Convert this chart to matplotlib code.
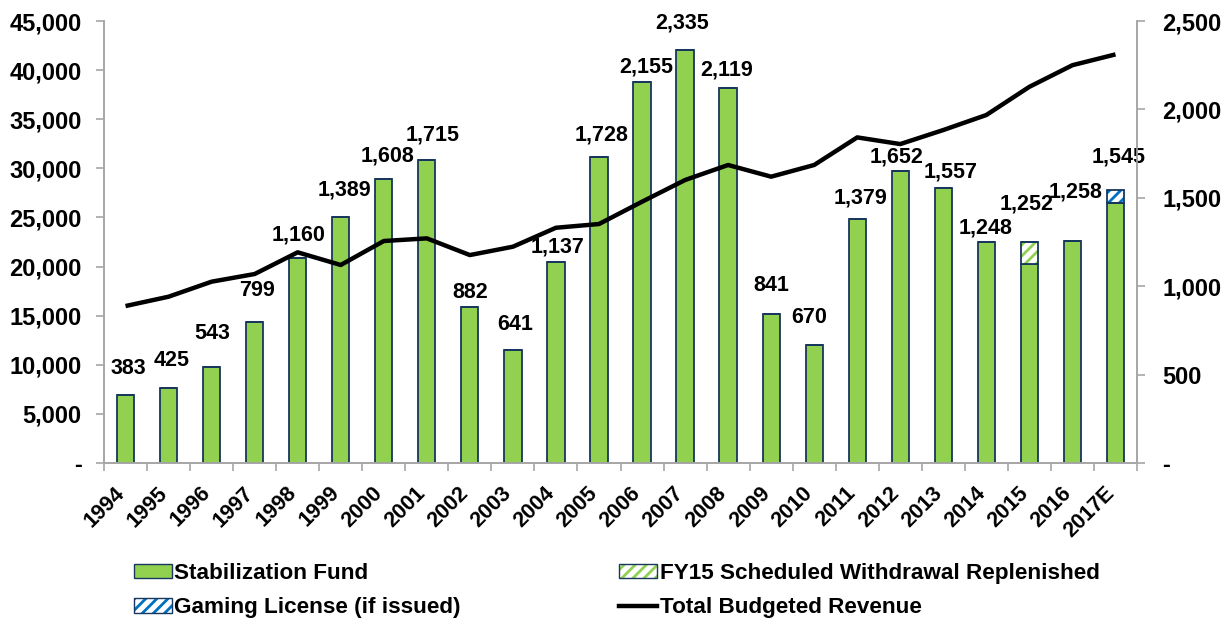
import matplotlib
matplotlib.use("Agg")
import matplotlib.pyplot as plt
import matplotlib.transforms as mtransforms
from matplotlib.patches import Patch
from matplotlib.lines import Line2D
from matplotlib.ticker import FuncFormatter, FixedLocator
import numpy as np

# ---------------- data ----------------
years = ["1994", "1995", "1996", "1997", "1998", "1999", "2000", "2001", "2002",
         "2003", "2004", "2005", "2006", "2007", "2008", "2009", "2010", "2011",
         "2012", "2013", "2014", "2015", "2016", "2017E"]
stab_labels = [383, 425, 543, 799, 1160, 1389, 1608, 1715, 882, 641, 1137, 1728,
               2155, 2335, 2119, 841, 670, 1379, 1652, 1557, 1248, 1252, 1258, 1545]
stab_fund = [383, 425, 543, 799, 1160, 1389, 1608, 1715, 882, 641, 1137, 1728,
             2155, 2335, 2119, 841, 670, 1379, 1652, 1557, 1248, 1127, 1258, 1470]
fy15_replenished = [0] * 21 + [125, 0, 0]
gaming_license = [0] * 23 + [75]
total_revenue = [15980, 16930, 18460, 19240, 21450, 20160, 22600, 22870, 21170,
                 22020, 23950, 24330, 26600, 28810, 30340, 29150, 30340, 33150,
                 32470, 33900, 35430, 38300, 40500, 41600]

# label placement (pixels, relative to bar top)
label_dx = [3, 3, 1, 2, 1, 4, 4, 6, 0, 2, 2, 3, 4, -3, -1, 0, -5, 3, -4, 7, -1, -3, 3, 3]
label_dy = [27, 27, 33, 31, 23, 27, 23, 25, 15, 25, 15, 22, 15, 27, 18, 29, 27, 21,
            14, 16, 14, 38, 49, 33]

# ---------------- style ----------------
plt.rcParams["font.family"] = ["Liberation Sans", "DejaVu Sans"]
plt.rcParams["font.weight"] = "bold"
plt.rcParams["hatch.linewidth"] = 2.0

GREEN = "#92D050"
NAVY = "#17375E"
BLUE = "#0070C0"
GREY = "#A6A6A6"

fig = plt.figure(figsize=(12.23, 6.19), dpi=100)
ax = fig.add_axes([104 / 1223, 1 - 463 / 619, (1137 - 104) / 1223, (463 - 21) / 619])
ax2 = ax.twinx()
ax.set_zorder(ax2.get_zorder() + 1)
ax.patch.set_visible(False)

x = np.arange(len(years))
w = 0.4
stab = np.array(stab_fund, dtype=float)
fy15 = np.array(fy15_replenished, dtype=float)
gam = np.array(gaming_license, dtype=float)

# bars on right axis
ax2.bar(x, stab, width=w, color=GREEN, edgecolor=NAVY, linewidth=1.3, zorder=2)
ax2.bar(x, fy15, bottom=stab, width=w, facecolor="white", edgecolor=GREEN,
        hatch="///", linewidth=0, zorder=2)
ax2.bar(x, fy15, bottom=stab, width=w, facecolor="none", edgecolor=NAVY,
        linewidth=1.3, zorder=3)
ax2.bar(x, gam, bottom=stab + fy15, width=w, facecolor="white", edgecolor=BLUE,
        hatch="///", linewidth=0, zorder=2)
ax2.bar(x, gam, bottom=stab + fy15, width=w, facecolor="none", edgecolor=NAVY,
        linewidth=1.3, zorder=3)

tops = stab + fy15 + gam
for i in range(len(years)):
    ax2.annotate(f"{stab_labels[i]:,}", (x[i], tops[i]), xytext=(label_dx[i], label_dy[i]),
                 textcoords="offset pixels", ha="center", va="center",
                 fontsize=15.5, fontweight="bold", color="black", zorder=5)

# line on left axis
ax.plot(x, total_revenue, color="black", linewidth=3.2, solid_joinstyle="round",
        solid_capstyle="butt", zorder=4)

ax.set_xlim(-0.5, len(years) - 0.5)
ax.set_ylim(0, 45000)
ax2.set_ylim(0, 2500)
ax.set_yticks(np.arange(0, 45001, 5000))
ax2.set_yticks(np.arange(0, 2501, 500))

fmt = FuncFormatter(lambda v, p: "-" if v == 0 else f"{int(v):,}")
ax.yaxis.set_major_formatter(fmt)
ax2.yaxis.set_major_formatter(fmt)

for a in (ax, ax2):
    a.spines["top"].set_visible(False)
    for s in ("left", "right", "bottom"):
        a.spines[s].set_color(GREY)
        a.spines[s].set_linewidth(1.2)

ax.tick_params(axis="y", direction="out", length=6, width=1.2, color=GREY,
               labelsize=17, pad=10, labelcolor="black")
ax2.tick_params(axis="y", direction="out", length=6, width=1.2, color=GREY,
                labelsize=17, pad=12, labelcolor="black")
for lab in ax.get_yticklabels() + ax2.get_yticklabels():
    lab.set_fontweight("bold")

ax.set_xticks(x)
ax.set_xticklabels(years, rotation=45, ha="right", va="top", fontsize=15.5,
                   fontweight="bold")
ax.xaxis.set_minor_locator(FixedLocator(np.arange(-0.5, len(years), 1.0)))
ax.tick_params(axis="x", which="major", length=0, pad=14)
ax.tick_params(axis="x", which="minor", length=6, width=1.2, color=GREY, direction="out")
ax2.tick_params(axis="x", which="both", length=0)
off = mtransforms.ScaledTranslation(0.03, 0, fig.dpi_scale_trans)
for lab in ax.xaxis.get_majorticklabels():
    lab.set_transform(lab.get_transform() + off)

# legends
h_stab = Patch(facecolor=GREEN, edgecolor=NAVY, linewidth=1.0)
h_gam = (Patch(facecolor="white", edgecolor=BLUE, hatch="///", linewidth=0),
         Patch(facecolor="none", edgecolor=NAVY, linewidth=1.0))
h_fy15 = (Patch(facecolor="white", edgecolor=GREEN, hatch="///", linewidth=0),
          Patch(facecolor="none", edgecolor=NAVY, linewidth=1.0))
h_line = Line2D([0], [0], color="black", linewidth=3.2)

leg_kw = dict(frameon=False, handlelength=1.7, handleheight=0.6,
              handletextpad=0.1, labelspacing=0.6, borderpad=0, borderaxespad=0,
              loc="upper left", prop={"weight": "bold", "size": 16.2})
fig.legend([h_stab, h_gam], ["Stabilization Fund", "Gaming License (if issued)"],
           bbox_to_anchor=(134 / 1223, 1 - 563 / 619), **leg_kw)
fig.legend([h_fy15, h_line], ["FY15 Scheduled Withdrawal Replenished", "Total Budgeted Revenue"],
           bbox_to_anchor=(619 / 1223, 1 - 563 / 619), **leg_kw)

fig.savefig("out.png", dpi=100)
